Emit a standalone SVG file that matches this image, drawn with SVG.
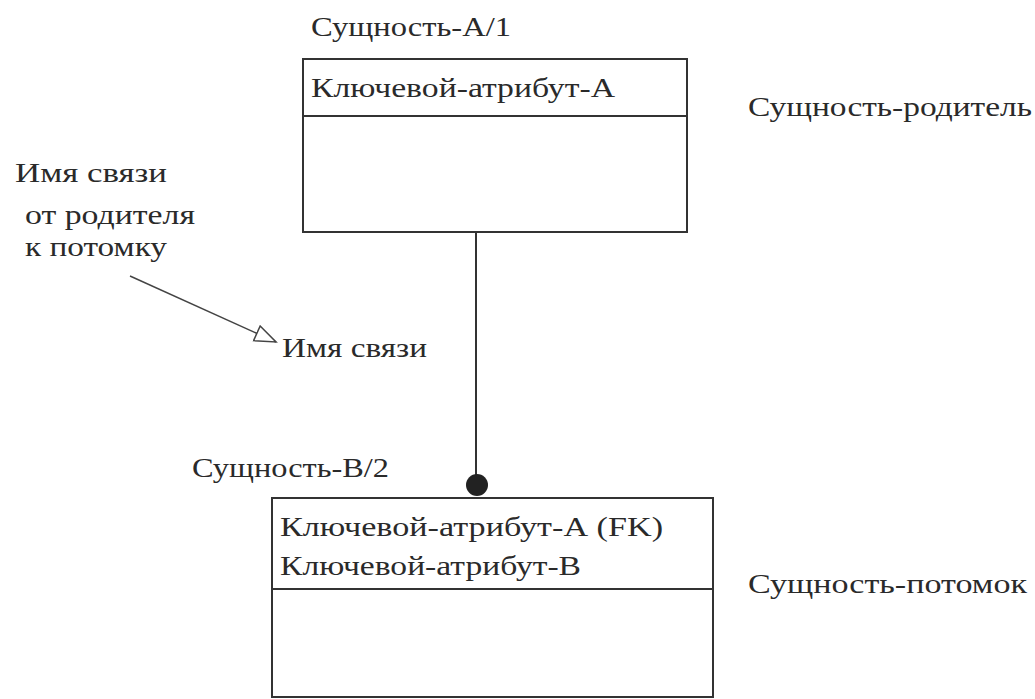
<svg xmlns="http://www.w3.org/2000/svg" width="1035" height="699" viewBox="0 0 1035 699">
  <style>
    .bg { fill: #ffffff; }
    .box { fill: #ffffff; stroke: #333333; stroke-width: 2; }
    .div { stroke: #333333; stroke-width: 2; }
    .lbl { font-family: "Liberation Serif", "Times New Roman", serif; font-size: 28px; fill: #2a2a2a; }
    .conn { stroke: #333333; stroke-width: 2; fill: none; }
    .note { stroke: #444444; stroke-width: 1.5; fill: none; }
  </style>
  <defs>
    <marker id="hollowTri" markerUnits="userSpaceOnUse" markerWidth="26" markerHeight="22" refX="22" refY="9" orient="auto">
      <path d="M1,1 L22,9 L1,17 Z" fill="#ffffff" stroke="#444444" stroke-width="1.5"/>
    </marker>
  </defs>

  <rect class="bg" x="0" y="0" width="1035" height="699"/>

  <!-- parent entity -->
  <g id="entity-a">
    <text class="lbl" x="311" y="36" textLength="200" lengthAdjust="spacingAndGlyphs">Сущность-А/1</text>
    <rect class="box" x="303" y="59" width="384" height="173"/>
    <line class="div" x1="303" y1="116" x2="687" y2="116"/>
    <text class="lbl" x="311" y="97" textLength="304" lengthAdjust="spacingAndGlyphs">Ключевой-атрибут-А</text>
  </g>

  <!-- child entity -->
  <g id="entity-b">
    <text class="lbl" x="192" y="477" textLength="197" lengthAdjust="spacingAndGlyphs">Сущность-В/2</text>
    <rect class="box" x="272" y="498" width="441" height="199"/>
    <line class="div" x1="272" y1="589" x2="713" y2="589"/>
    <text class="lbl" x="280" y="536" textLength="383" lengthAdjust="spacingAndGlyphs">Ключевой-атрибут-А (FK)</text>
    <text class="lbl" x="280" y="575" textLength="301" lengthAdjust="spacingAndGlyphs">Ключевой-атрибут-В</text>
  </g>

  <!-- side captions -->
  <g id="caption-parent">
    <text class="lbl" x="748" y="116" textLength="284" lengthAdjust="spacingAndGlyphs">Сущность-родитель</text>
  </g>
  <g id="caption-child">
    <text class="lbl" x="748" y="593" textLength="279" lengthAdjust="spacingAndGlyphs">Сущность-потомок</text>
  </g>

  <!-- explanatory note -->
  <g id="note">
    <text class="lbl" x="15" y="182" textLength="152" lengthAdjust="spacingAndGlyphs">Имя связи</text>
    <text class="lbl" x="25" y="224" textLength="170" lengthAdjust="spacingAndGlyphs">от родителя</text>
    <text class="lbl" x="25" y="256" textLength="142" lengthAdjust="spacingAndGlyphs">к потомку</text>
  </g>

  <!-- relationship name -->
  <g id="rel-name">
    <text class="lbl" x="282" y="357" textLength="145" lengthAdjust="spacingAndGlyphs">Имя связи</text>
  </g>

  <!-- connectors -->
  <g id="connectors">
    <line class="conn" x1="476" y1="232" x2="476" y2="485"/>
    <circle cx="477" cy="485" r="11" fill="#222222"/>
    <line class="note" x1="130" y1="276" x2="276" y2="342" marker-end="url(#hollowTri)"/>
  </g>
</svg>
